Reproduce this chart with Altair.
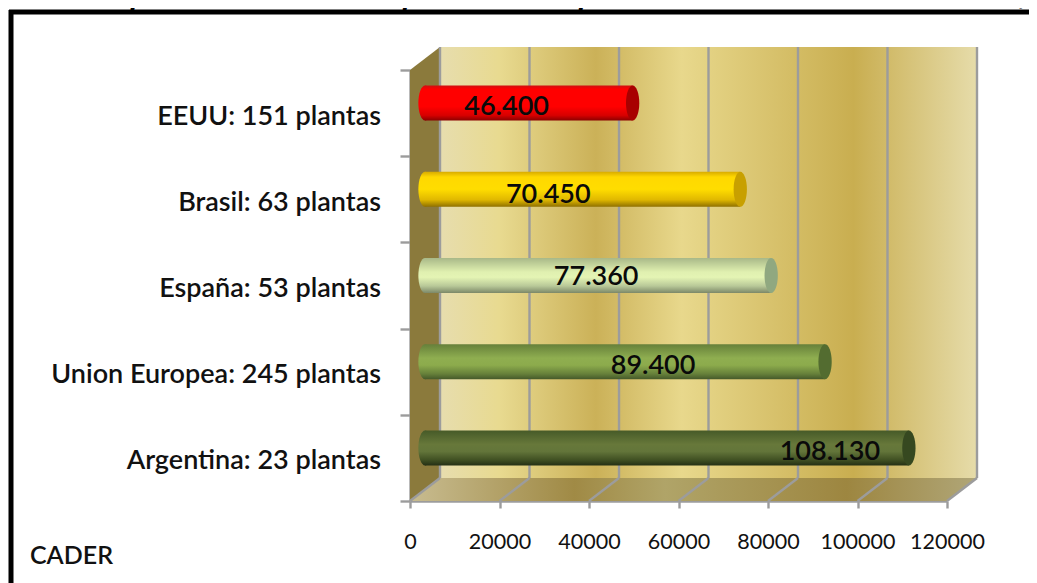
import altair as alt
import pandas as pd

categories = ["Argentina: 23 plantas", "Union Europea: 245 plantas", "España: 53 plantas", "Brasil: 63 plantas", "EEUU: 151 plantas"]
values = [108130, 89400, 77360, 70450, 46400]
labels = ["108.130", "89.400", "77.360", "70.450", "46.400"]
x_ticks = [0, 20000, 40000, 60000, 80000, 100000, 120000]
title_text = "Gráfico 4: comparativo del tamaño promedio de plantas de biodiesel en el mundo, 2010"

# 3D look
DX, DY = 6704, 0.267
FONT = "Lato"
GRID = "#9c9c9c"

def grad(stops, horizontal=False):
    return alt.Gradient(gradient="linear",
                        x1=0, y1=0, x2=1 if horizontal else 0, y2=0 if horizontal else 1,
                        stops=[alt.GradientStop(offset=o, color=c) for o, c in stops])

bar_stops = [
    [(0, "#465a28"), (.4, "#67783a"), (.6, "#63753a"), (.85, "#3f4f22"), (1, "#253015")],
    [(0, "#66803a"), (.4, "#8fae50"), (.6, "#8cab4c"), (.85, "#66803a"), (1, "#45592a")],
    [(0, "#a8b888"), (.4, "#e0f0b0"), (.55, "#e4f4b4"), (.8, "#b8c898"), (1, "#7c8868")],
    [(0, "#d8ab00"), (.15, "#ffd800"), (.5, "#ffdd00"), (.8, "#e0b800"), (1, "#8f7000")],
    [(0, "#d01010"), (.1, "#ff0000"), (.6, "#ff0000"), (.85, "#d80000"), (1, "#8a0000")],
]
cap_colors = ["#364820", "#536c30", "#90a880", "#c8a000", "#a80000"]
label_dx = [-64, -157, -160, -177, -111]
label_dy = [6, 6, 3, 7, 5]

xs = alt.Scale(domain=[0, 120000], nice=False, zero=False)
ys = alt.Scale(domain=[0, 5], nice=False, zero=False)
X = lambda f: alt.X(f, type="quantitative", scale=xs, axis=None)
Y = lambda f: alt.Y(f, type="quantitative", scale=ys, axis=None)

layers = []

# back wall
layers.append(alt.Chart(pd.DataFrame({"x": [DX], "x2": [120000 + DX], "y": [DY], "y2": [5 + DY]}))
    .mark_rect(color=grad([(0, "#e7ddae"), (.11, "#e8da90"), (.29, "#cbb158"), (.45, "#e8d88c"), (.77, "#c9ae50"), (1, "#e6dcaa")], True))
    .encode(x=X("x"), x2="x2", y=Y("y"), y2="y2"))
# left wall
layers.append(alt.Chart(pd.DataFrame({"x": [0, DX], "y": [0, DY], "y2": [5, 5 + DY]}))
    .mark_area(orient="vertical", color="#8b7a3c")
    .encode(x=X("x"), y=Y("y"), y2="y2"))
# floor
layers.append(alt.Chart(pd.DataFrame({"y": [0, DY], "x": [0, DX], "x2": [120000, 120000 + DX]}))
    .mark_area(orient="horizontal", color=grad([(0, "#c8bc90"), (.29, "#a08a45"), (.45, "#b0a468"), (.77, "#9d8640"), (1, "#b0a678")], True))
    .encode(y=Y("y"), x=X("x"), x2="x2"))
# grid
grid_df = pd.DataFrame({"x": [t + DX for t in x_ticks], "y": [DY] * 7, "y2": [5 + DY] * 7})
layers.append(alt.Chart(grid_df).mark_rule(color=GRID, strokeWidth=2.4)
    .encode(x=X("x"), y=Y("y"), y2="y2"))
diag = pd.DataFrame([{"k": t, "x": t + d * DX, "y": d * DY} for t in x_ticks for d in (0, 1)])
layers.append(alt.Chart(diag).mark_line(color=GRID, strokeWidth=2.4)
    .encode(x=X("x"), y=Y("y"), detail="k:N"))

# axes
layers.append(alt.Chart(pd.DataFrame({"x": x_ticks})).transform_calculate(y0="0").mark_point(opacity=0)
    .encode(
        x=alt.X("x:Q", scale=xs, axis=alt.Axis(values=x_ticks, title=None, grid=False, format="d",
            domainColor=GRID, domainWidth=2.4, tickColor=GRID, tickWidth=2.4, tickSize=7,
            labelFont=FONT, labelFontSize=21.5, labelColor="#111", labelPadding=23, labelFlush=False)),
        y=alt.Y("y0:Q", scale=ys, axis=alt.Axis(values=[0, 1, 2, 3, 4, 5], title=None, grid=False, labels=False,
            domainColor=GRID, domainWidth=2.4, tickColor=GRID, tickWidth=2.4, tickSize=10)),
    ))

# bars
mid_x, mid_y, half = DX / 2, DY / 2 - 1.5 / 86.2, 17.5 / 86.2
CAP = "M0,-1 A0.38,1 0 1,1 0,1 A0.38,1 0 1,1 0,-1 Z"
for i, v in enumerate(values):
    g = grad(bar_stops[i])
    yc = i + .5 + mid_y
    d = pd.DataFrame({"x0": [mid_x], "x": [v + mid_x], "y": [yc - half], "y2": [yc + half], "yc": [yc], "label": [labels[i]]})
    base = alt.Chart(d)
    layers.append(base.mark_point(shape=CAP, size=1225, filled=True, opacity=1, fill=g, stroke=None)
        .encode(x=X("x0"), y=Y("yc")))
    layers.append(base.mark_rect(color=g).encode(x=X("x0"), x2="x", y=Y("y"), y2="y2"))
    layers.append(base.mark_point(shape=CAP, size=1225, filled=True, opacity=1, fill=cap_colors[i], stroke=None)
        .encode(x=X("x"), y=Y("yc")))

# data labels
for i, v in enumerate(values):
    d = pd.DataFrame({"x": [v], "y": [i + .5 + DY / 2], "label": [labels[i]]})
    layers.append(alt.Chart(d).mark_text(font=FONT, fontSize=27, fontWeight=600, color="#0a0a0a", dx=label_dx[i], dy=label_dy[i])
        .encode(x=X("x"), y=Y("y"), text="label:N"))

# category labels
cat_df = pd.DataFrame({"c": categories, "y": [i + .5 for i in range(5)]})
layers.append(alt.Chart(cat_df).mark_text(font=FONT, fontSize=27, fontWeight=600, color="#111", align="right", dy=3.5)
    .encode(x=alt.value(-29), y=Y("y"), text="c:N"))

# source, title and frame
layers.append(alt.Chart(pd.DataFrame({"t": ["CADER"]})).mark_text(font=FONT, fontSize=25, fontWeight=600, color="#111", align="left")
    .encode(x=alt.value(-380), y=alt.value(486), text="t:N"))
layers.append(alt.Chart(pd.DataFrame({"t": [title_text]})).mark_text(font="Liberation Sans", fontSize=28, fontWeight="bold", fontStyle="italic", color="#000", align="left", baseline="alphabetic")
    .encode(x=alt.value(-475), y=alt.value(-66), text="t:N"))
frame = pd.DataFrame({"k": [0]})
layers.append(alt.Chart(frame).mark_rule(color="#000", strokeWidth=5)
    .encode(x=alt.value(-399), y=alt.value(-60), y2=alt.value(513)))
layers.append(alt.Chart(frame).mark_rule(color="#000", strokeWidth=5)
    .encode(x=alt.value(-401), x2=alt.value(627), y=alt.value(-58)))

chart = alt.layer(*layers).resolve_axis(x="independent", y="independent").properties(
    width=537, height=431,
    padding={"left": 402, "top": 62, "right": 82, "bottom": 82},
    autosize=alt.AutoSizeParams(type="none"),
    background="#ffffff",
).configure_view(stroke=None)

chart.save("out.html", embed_options={"renderer": "svg", "actions": False})
